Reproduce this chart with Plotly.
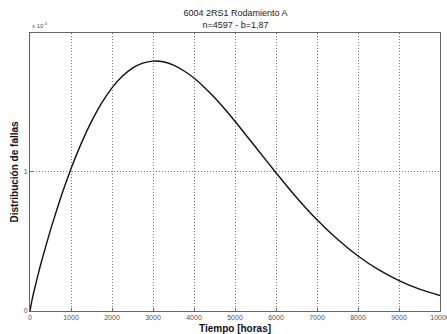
import plotly.graph_objects as go

# Time [hours]
tiempo = [0, 50, 100, 250, 500, 750, 1000, 1250, 1500, 1750, 2000, 2250, 2500, 2750,
          3000, 3250, 3500, 3750, 4000, 4250, 4500, 4750, 5000, 5500, 6000, 6500,
          7000, 7500, 8000, 8500, 9000, 9500, 10000]
# Failure distribution (x 1e-4)
distribucion = [0.0, 0.080, 0.145, 0.322, 0.581, 0.812, 1.018, 1.200, 1.357, 1.490,
                1.597, 1.680, 1.739, 1.775, 1.789, 1.784, 1.760, 1.720, 1.668, 1.602,
                1.528, 1.446, 1.358, 1.174, 0.990, 0.813, 0.653, 0.513, 0.394, 0.296,
                0.218, 0.157, 0.111]

x_ticks = [0, 1000, 2000, 3000, 4000, 5000, 6000, 7000, 8000, 9000, 10000]
y_ticks = [0, 1]

font_family = "Liberation Sans, Arial, sans-serif"

fig = go.Figure()
fig.add_trace(go.Scatter(
    x=tiempo, y=distribucion, mode="lines",
    line=dict(color="#111111", width=1.4, shape="spline", smoothing=0.5),
    showlegend=False, hoverinfo="skip"))

axis_common = dict(
    showgrid=True, gridcolor="#777777", griddash="1px,2px", gridwidth=1,
    showline=True, linecolor="#666666", linewidth=1, mirror=True,
    ticks="inside", ticklen=3, tickcolor="#666666",
    zeroline=False, automargin=False, ticklabeloverflow="allow",
    tickfont=dict(size=7, color="#555555"),
)

fig.update_layout(
    width=447, height=334,
    margin=dict(l=30, r=7, t=33, b=23),
    paper_bgcolor="white", plot_bgcolor="white",
    font=dict(family=font_family, size=8, color="#333333"),
    title=dict(text="6004 2RS1 Rodamiento A<br>n=4597 - b=1,87",
               x=0.527, xanchor="center", y=0.951, yanchor="middle",
               font=dict(size=9, color="#222222")),
    xaxis=dict(range=[0, 10000], tickvals=x_ticks, ticktext=[str(v) for v in x_ticks],
               **axis_common),
    yaxis=dict(range=[0, 1.99], tickvals=y_ticks, ticktext=["0", "1"], **axis_common),
    annotations=[
        dict(text="x 10<sup>-4</sup>", xref="paper", yref="paper", x=0.0, y=1.0,
             xanchor="left", yanchor="bottom", yshift=2, showarrow=False,
             font=dict(size=6, color="#555555")),
        dict(text="<b>Tiempo [horas]</b>", xref="paper", yref="paper", x=0.5, y=0,
             xanchor="center", yanchor="top", yshift=-10, showarrow=False,
             font=dict(size=10, color="#111111")),
        dict(text="<b>Distribución de fallas</b>", xref="paper", yref="paper", x=0, y=0.5,
             xanchor="right", yanchor="middle", xshift=-9, textangle=-90, showarrow=False,
             font=dict(size=10, color="#111111")),
    ],
)

fig.write_html("out.html", config={"displayModeBar": False},
               post_script="document.body.style.margin='0';document.body.style.overflow='hidden';")
